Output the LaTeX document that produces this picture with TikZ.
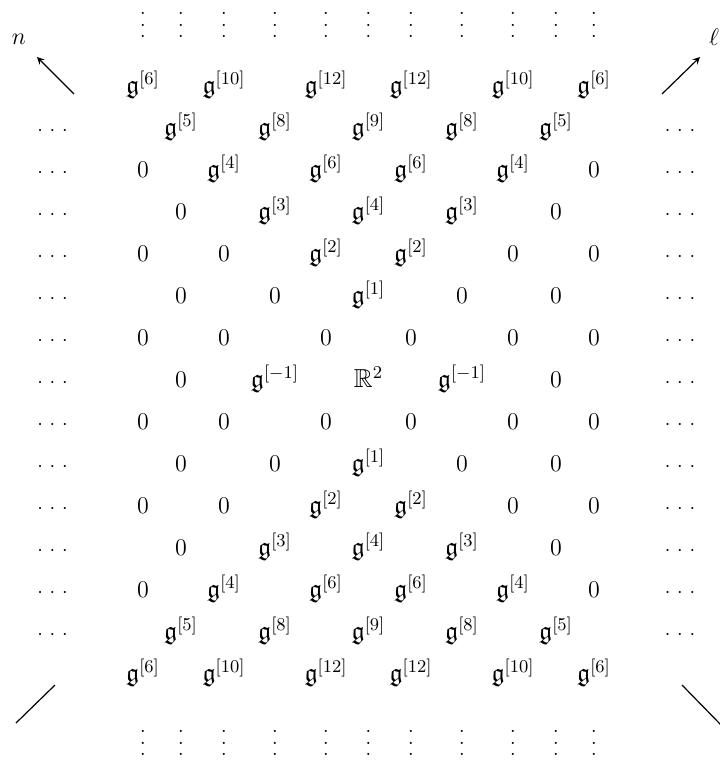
\documentclass[tikz,border=0pt]{standalone}
\usepackage{amsmath}
\usepackage{amssymb}
\usetikzlibrary{arrows}

\newcommand{\gk}[1]{\mathfrak{g}^{[#1]}}
\newcommand{\vdts}{\vbox{\baselineskip5.8pt\lineskiplimit0pt\hbox{.}\hbox{.}\hbox{.}}}
\newcommand{\hdts}{${\cdot}\kern3.4pt{\cdot}\kern3.4pt{\cdot}$}

\begin{document}
\begin{tikzpicture}[x=0.5pt,y=-0.5pt,
  entry/.style={anchor=base,inner sep=0pt,font=\fontsize{13}{16}\selectfont},
  sdts/.style={anchor=base,inner sep=0pt},
  dts/.style={inner sep=0pt},
  axis/.style={->,>=stealth,semithick},
  edge/.style={semithick},
  lab/.style={font=\fontsize{12}{14}\selectfont},
]
\useasboundingbox (0,0) rectangle (719,761);

% === vertical dots, top and bottom ===
\foreach \x [count=\i] in {143,181,224,275,326,368.5,411,462,513,556,594}{
  \node[dts] (top\i) at (\x,25) {\vdts};
  \node[dts] (bot\i) at (\x,743) {\vdts};
}

% === dots at the sides ===
\foreach \r in {2,...,14}{
  \node[sdts] (left\r) at (52.5,{93+42*(\r-1)}) {\hdts};
  \node[sdts] (right\r) at (680,{93+42*(\r-1)}) {\hdts};
}

% === the rows ===
\foreach \x/\lbl [count=\j] in {143/\gk{6},224/\gk{10},326/\gk{12},411/\gk{12},513/\gk{10},594/\gk{6}}
  \node[entry] (r1c\j) at (\x,93) {$\lbl$};
\foreach \x/\lbl [count=\j] in {181/\gk{5},275/\gk{8},368.5/\gk{9},462/\gk{8},556/\gk{5}}
  \node[entry] (r2c\j) at (\x,135) {$\lbl$};
\foreach \x/\lbl [count=\j] in {143/0,224/\gk{4},326/\gk{6},411/\gk{6},513/\gk{4},594/0}
  \node[entry] (r3c\j) at (\x,177) {$\lbl$};
\foreach \x/\lbl [count=\j] in {181/0,275/\gk{3},368.5/\gk{4},462/\gk{3},556/0}
  \node[entry] (r4c\j) at (\x,219) {$\lbl$};
\foreach \x/\lbl [count=\j] in {143/0,224/0,326/\gk{2},411/\gk{2},513/0,594/0}
  \node[entry] (r5c\j) at (\x,261) {$\lbl$};
\foreach \x/\lbl [count=\j] in {181/0,275/0,368.5/\gk{1},462/0,556/0}
  \node[entry] (r6c\j) at (\x,303) {$\lbl$};
\foreach \x/\lbl [count=\j] in {143/0,224/0,326/0,411/0,513/0,594/0}
  \node[entry] (r7c\j) at (\x,345) {$\lbl$};
\foreach \x/\lbl [count=\j] in {181/0,275/\gk{-1},368.5/\mathbb{R}^2,462/\gk{-1},556/0}
  \node[entry] (r8c\j) at (\x,387) {$\lbl$};
\foreach \x/\lbl [count=\j] in {143/0,224/0,326/0,411/0,513/0,594/0}
  \node[entry] (r9c\j) at (\x,429) {$\lbl$};
\foreach \x/\lbl [count=\j] in {181/0,275/0,368.5/\gk{1},462/0,556/0}
  \node[entry] (r10c\j) at (\x,471) {$\lbl$};
\foreach \x/\lbl [count=\j] in {143/0,224/0,326/\gk{2},411/\gk{2},513/0,594/0}
  \node[entry] (r11c\j) at (\x,513) {$\lbl$};
\foreach \x/\lbl [count=\j] in {181/0,275/\gk{3},368.5/\gk{4},462/\gk{3},556/0}
  \node[entry] (r12c\j) at (\x,555) {$\lbl$};
\foreach \x/\lbl [count=\j] in {143/0,224/\gk{4},326/\gk{6},411/\gk{6},513/\gk{4},594/0}
  \node[entry] (r13c\j) at (\x,597) {$\lbl$};
\foreach \x/\lbl [count=\j] in {181/\gk{5},275/\gk{8},368.5/\gk{9},462/\gk{8},556/\gk{5}}
  \node[entry] (r14c\j) at (\x,639) {$\lbl$};
\foreach \x/\lbl [count=\j] in {143/\gk{6},224/\gk{10},326/\gk{12},411/\gk{12},513/\gk{10},594/\gk{6}}
  \node[entry] (r15c\j) at (\x,681) {$\lbl$};

% === directions ===
\coordinate (nfoot) at (74,94);
\coordinate (nhead) at (37,57);
\draw[axis] (nfoot) -- (nhead);
\node[lab] (nlabel) at (19,39) {$n$};
\coordinate (lfoot) at (662,94);
\coordinate (lhead) at (700,57);
\draw[axis] (lfoot) -- (lhead);
\node[lab] (llabel) at (714,37) {$\ell$};

\coordinate (blfoot) at (55,685);
\coordinate (blend) at (16,723);
\draw[edge] (blfoot) -- (blend);
\coordinate (brfoot) at (682,685);
\coordinate (brend) at (723,727);
\draw[edge] (brfoot) -- (brend);

\end{tikzpicture}
\end{document}
